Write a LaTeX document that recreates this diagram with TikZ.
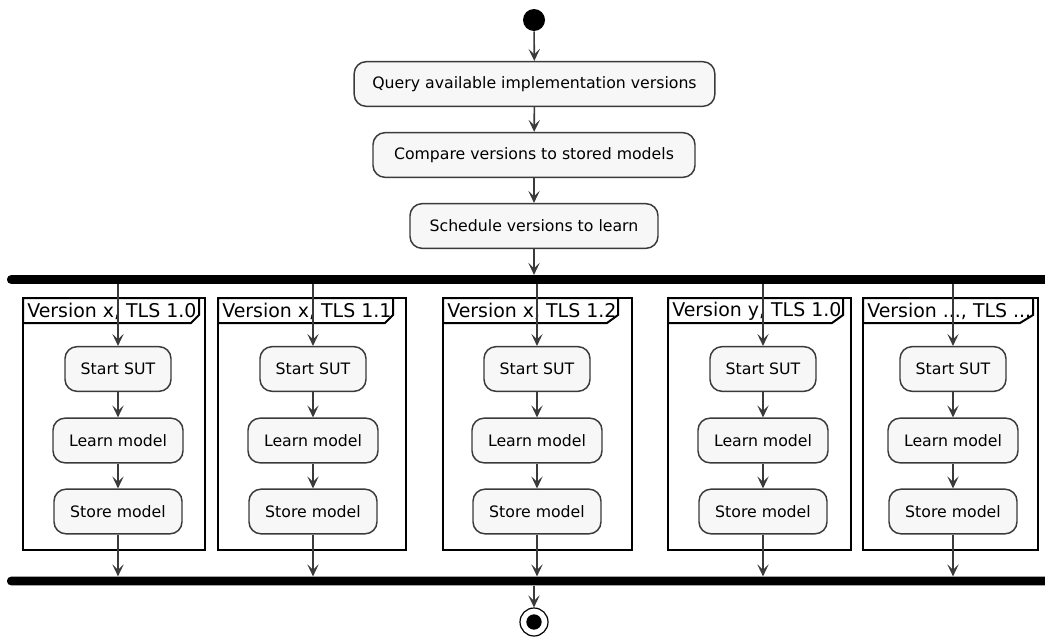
\documentclass[tikz,border=0pt]{standalone}
\usepackage{fontspec}
\setmainfont{DejaVu Sans}
\usetikzlibrary{arrows.meta}
\definecolor{actfill}{HTML}{F7F7F7}
\definecolor{actline}{HTML}{3A3A3A}
\begin{document}
\begin{tikzpicture}[x=0.75pt,y=-0.75pt,
  act/.style={draw=actline, fill=actfill, line width=1.1pt, rounded corners=9pt,
    minimum height=33.5pt, inner sep=0pt, font=\fontsize{11.8}{13}\selectfont},
  flow/.style={draw=actline, line width=1.2pt,
    -{Stealth[length=9pt,width=8.5pt,inset=4pt]}},
  bar/.style={fill=black, rounded corners=3pt, inner sep=0pt, minimum height=6.5pt},
  frm/.style={draw=black, line width=1.5pt, inner sep=0pt},
  tab/.style={draw=black, line width=1.5pt, fill=white},
  tablabel/.style={anchor=west, inner sep=0pt, font=\fontsize{14.2}{16}\selectfont}]
\useasboundingbox (0,0) rectangle (1045,639);
\clip (0,0) rectangle (1045,639);

% start and top-level actions
\node[circle, fill=black, minimum size=16.5pt, inner sep=0pt] (start) at (534,20) {};
\node[act, minimum width=270.5pt] (query) at (534.5,84) {Query available implementation versions\hspace{8pt}};
\node[act, minimum width=241.5pt] (compare) at (534,155) {Compare versions to stored models\hspace{8pt}};
\node[act, minimum width=186pt] (schedule) at (534,226) {Schedule versions to learn\hspace{8pt}};

% fork and join bars
\node[bar, minimum width=786pt] (fork) at (531,279.5) {};
\node[bar, minimum width=786pt] (join) at (531,581) {};

% end point
\node[circle, draw=black, fill=white, line width=0.9pt, minimum size=21pt, inner sep=0pt] (stop) at (534,622) {};
\node[circle, fill=black, minimum size=11.5pt, inner sep=0pt] (stopdot) at (stop) {};

% partitions: left, right, tab right, tab cut, branch x, label
\foreach \i/\l/\r/\tr/\tc/\bx/\lab/\ws/\wl/\wt in {
  1/23/205/199/191/118/{Version x, TLS 1.0}/106/130/128,
  2/218/406/393/385/313/{Version x, TLS 1.1}/106/130/128,
  3/443/632/618/607/537/{Version x, TLS 1.2}/106/130/128,
  4/668/851/843/832/763/{Version y, TLS 1.0}/106/130/128,
  5/863/1038/1033/1020/953/{Version ..., TLS ...}/106/130/128}{
  \node[frm, minimum width={(\r-\l)*0.75pt}, minimum height=189pt] (f\i) at ({(\l+\r)/2},424) {};
  \draw[tab] (\l,298) -- (\tr,298) -- (\tr,315) -- (\tc,323) -- (\l,323) -- cycle;
  \node[tablabel] (lab\i) at (\l+4,311) {\lab};
  \node[act, minimum width={\ws*0.75pt}] (sut\i) at (\bx,369) {Start SUT};
  \node[act, minimum width={\wl*0.75pt}] (learn\i) at (\bx,440.5) {Learn model};
  \node[act, minimum width={\wt*0.75pt}] (store\i) at (\bx,511.5) {Store model};
  \draw[flow] (fork.south -| sut\i.north) -- (sut\i.north);
  \draw[flow] (sut\i) -- (learn\i);
  \draw[flow] (learn\i) -- (store\i);
  \draw[flow] (store\i.south) -- (join.north -| store\i.south);
}

% main flow
\draw[flow] (start) -- (query);
\draw[flow] (query) -- (compare);
\draw[flow] (compare) -- (schedule);
\draw[flow] (schedule.south) -- (fork.north -| schedule.south);
\draw[flow] (join.south -| stop.north) -- (stop.north);
\end{tikzpicture}
\end{document}
